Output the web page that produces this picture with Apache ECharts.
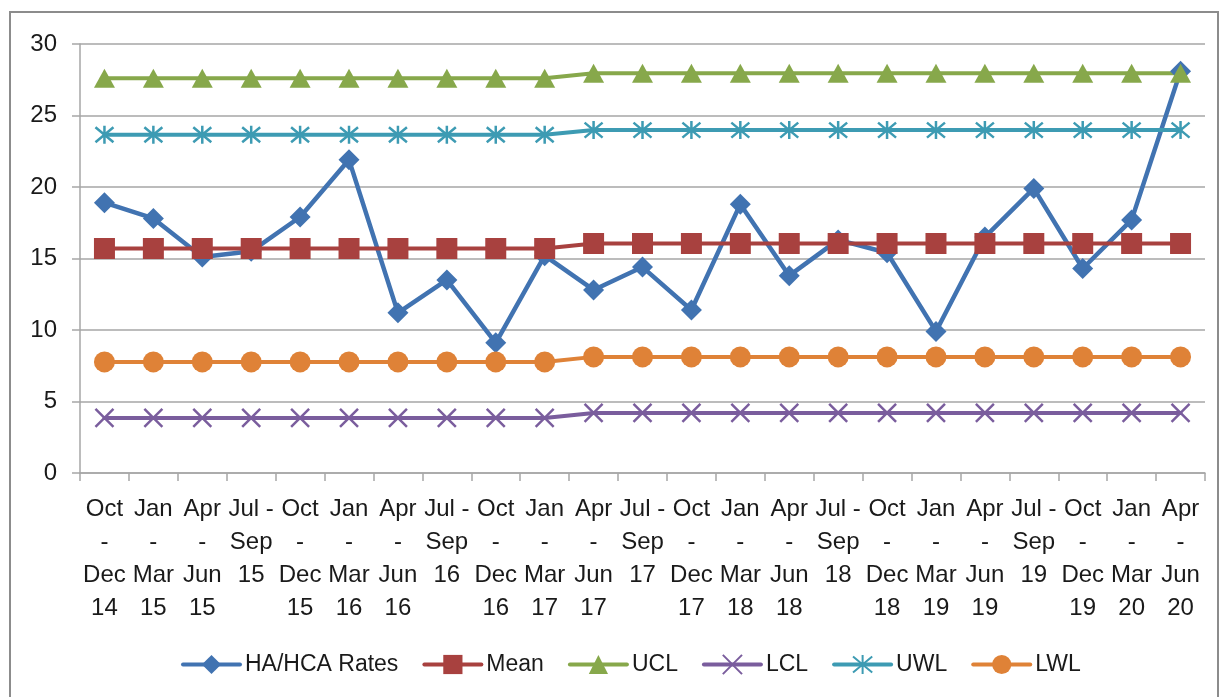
<!DOCTYPE html>
<html>
<head>
<meta charset="utf-8">
<script src="https://cdn.jsdelivr.net/npm/echarts@6/dist/echarts.min.js"></script>
<style>
  html, body { margin: 0; padding: 0; background: #fff; }
  #chart { width: 1220px; height: 697px; }
</style>
</head>
<body>
<div id="chart"></div>
<script>
const quarters = [
  'Oct\n-\nDec\n14', 'Jan\n-\nMar\n15', 'Apr\n-\nJun\n15', 'Jul -\nSep\n15',
  'Oct\n-\nDec\n15', 'Jan\n-\nMar\n16', 'Apr\n-\nJun\n16', 'Jul -\nSep\n16',
  'Oct\n-\nDec\n16', 'Jan\n-\nMar\n17', 'Apr\n-\nJun\n17', 'Jul -\nSep\n17',
  'Oct\n-\nDec\n17', 'Jan\n-\nMar\n18', 'Apr\n-\nJun\n18', 'Jul -\nSep\n18',
  'Oct\n-\nDec\n18', 'Jan\n-\nMar\n19', 'Apr\n-\nJun\n19', 'Jul -\nSep\n19',
  'Oct\n-\nDec\n19', 'Jan\n-\nMar\n20', 'Apr\n-\nJun\n20'
];
const haRates = [18.9, 17.8, 15.1, 15.5, 17.9, 21.9, 11.2, 13.5, 9.1, 15.2, 12.8, 14.4,
  11.4, 18.8, 13.8, 16.3, 15.4, 9.9, 16.5, 19.9, 14.3, 17.7, 28.1];
const meanVals = [15.7, 15.7, 15.7, 15.7, 15.7, 15.7, 15.7, 15.7, 15.7, 15.7, 16.05, 16.05,
  16.05, 16.05, 16.05, 16.05, 16.05, 16.05, 16.05, 16.05, 16.05, 16.05, 16.05];
const uclVals = [27.6, 27.6, 27.6, 27.6, 27.6, 27.6, 27.6, 27.6, 27.6, 27.6, 27.95, 27.95,
  27.95, 27.95, 27.95, 27.95, 27.95, 27.95, 27.95, 27.95, 27.95, 27.95, 27.95];
const lclVals = [3.85, 3.85, 3.85, 3.85, 3.85, 3.85, 3.85, 3.85, 3.85, 3.85, 4.2, 4.2,
  4.2, 4.2, 4.2, 4.2, 4.2, 4.2, 4.2, 4.2, 4.2, 4.2, 4.2];
const uwlVals = [23.65, 23.65, 23.65, 23.65, 23.65, 23.65, 23.65, 23.65, 23.65, 23.65, 23.98, 23.98,
  23.98, 23.98, 23.98, 23.98, 23.98, 23.98, 23.98, 23.98, 23.98, 23.98, 23.98];
const lwlVals = [7.77, 7.77, 7.77, 7.77, 7.77, 7.77, 7.77, 7.77, 7.77, 7.77, 8.12, 8.12,
  8.12, 8.12, 8.12, 8.12, 8.12, 8.12, 8.12, 8.12, 8.12, 8.12, 8.12];
const yTicks = [0, 5, 10, 15, 20, 25, 30];

const FONT = '"Liberation Sans", Arial, sans-serif';
const C = {
  blue: '#4173B1',
  red: '#A8413F',
  green: '#87A84B',
  purple: '#7A5D9D',
  teal: '#3D9BB3',
  orange: '#DF8237'
};
const X_PATH = 'path://M0,0L10,10M10,0L0,10';
const STAR_PATH = 'path://M0,0L10,10M10,0L0,10M5,-1L5,11';

function lineSeries(name, data, color, symbol, size, extra) {
  return Object.assign({
    name: name,
    type: 'line',
    data: data,
    symbol: symbol,
    symbolSize: size,
    showAllSymbol: true,
    lineStyle: { color: color, width: 4, cap: 'round', join: 'round' },
    itemStyle: { color: color, borderWidth: 0 },
    emphasis: { disabled: true },
    animation: false
  }, extra || {});
}

const chart = echarts.init(document.getElementById('chart'));
chart.setOption({
  animation: false,
  textStyle: { fontFamily: FONT },
  graphic: [{
    type: 'rect',
    shape: { x: 10, y: 12, width: 1208, height: 700 },
    style: { fill: 'none', stroke: '#8c8c8c', lineWidth: 2 },
    silent: true
  }],
  grid: { left: 80, right: 15, top: 44, bottom: 224 },
  legend: {
    left: 176,
    top: 648,
    itemWidth: 57,
    itemHeight: 24,
    itemGap: 24,
    lineStyle: { width: 4 },
    textStyle: { fontSize: 23, color: '#1a1a1a', fontFamily: FONT },
    data: ['HA/HCA Rates', 'Mean', 'UCL', 'LCL', 'UWL', 'LWL']
  },
  xAxis: {
    type: 'category',
    data: quarters,
    boundaryGap: true,
    axisLine: { lineStyle: { color: '#a6a6a6', width: 1.5 } },
    axisTick: { show: true, length: 8, lineStyle: { color: '#a6a6a6', width: 1.5 } },
    axisLabel: {
      interval: 0,
      margin: 20,
      fontSize: 24,
      lineHeight: 33,
      color: '#1a1a1a',
      fontFamily: FONT
    }
  },
  yAxis: {
    type: 'value',
    min: yTicks[0],
    max: yTicks[yTicks.length - 1],
    interval: 5,
    axisLine: { show: true, lineStyle: { color: '#a6a6a6', width: 1.5 } },
    axisTick: { show: true, length: 8, lineStyle: { color: '#a6a6a6', width: 1.5 } },
    splitLine: { lineStyle: { color: '#a6a6a6', width: 1.5 } },
    axisLabel: { margin: 23, fontSize: 24, color: '#1a1a1a', fontFamily: FONT }
  },
  series: [
    lineSeries('HA/HCA Rates', haRates, C.blue, 'diamond', [21, 21], { lineStyle: { color: C.blue, width: 4.5, cap: 'round', join: 'round' } }),
    lineSeries('Mean', meanVals, C.red, 'rect', 21),
    lineSeries('UCL', uclVals, C.green, 'triangle', [21, 19]),
    lineSeries('LCL', lclVals, C.purple, X_PATH, 18, { itemStyle: { color: C.purple, borderColor: C.purple, borderWidth: 2.5 } }),
    lineSeries('UWL', uwlVals, C.teal, STAR_PATH, 18, { itemStyle: { color: C.teal, borderColor: C.teal, borderWidth: 2.5 } }),
    lineSeries('LWL', lwlVals, C.orange, 'circle', 21)
  ]
});
</script>
</body>
</html>
